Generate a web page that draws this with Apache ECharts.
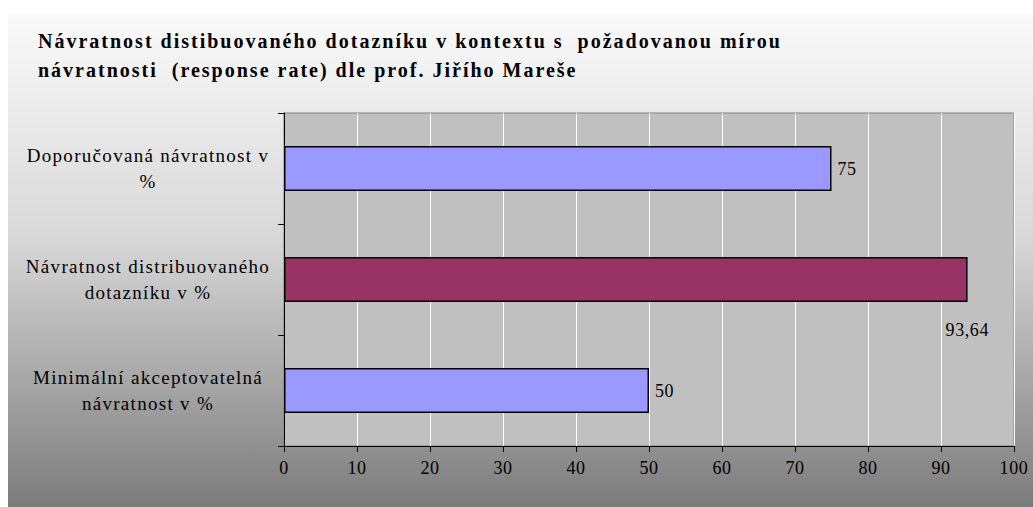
<!DOCTYPE html>
<html lang="cs">
<head>
    <meta charset="UTF-8">
    <title>Návratnost dotazníku</title>
    <script src="https://cdn.jsdelivr.net/npm/echarts/dist/echarts.min.js"></script>
    <style>
        html, body { margin: 0; padding: 0; background: #fff; }
        #chart { width: 1033px; height: 507px; }
        /* the original Times text is set wide */
        #chart svg text { letter-spacing: 0.6px; }
        #chart svg text[style*="19px"] { letter-spacing: 1.3px; }
        #chart svg text[style*="bold"] { letter-spacing: 2px; }
    </style>
</head>
<body>
<div id="chart"></div>
<script>
    // data
    var categories = [
        'Doporučovaná návratnost v\n%',
        'Návratnost distribuovaného\ndotazníku v %',
        'Minimální akceptovatelná\nnávratnost v %'
    ];
    var values = [75, 93.64, 50];
    var xTicks = [0, 10, 20, 30, 40, 50, 60, 70, 80, 90, 100];

    var serif = '"Liberation Serif", "DejaVu Serif", serif';
    var chart = echarts.init(document.getElementById('chart'), null, { renderer: 'svg' });

    var option = {
        animation: false,
        graphic: [{
            type: 'rect',
            z: -10,
            shape: { x: 8, y: 14, width: 1025, height: 493 },
            style: {
                fill: new echarts.graphic.LinearGradient(0, 0, 0, 1, [
                    { offset: 0, color: '#fafafa' },
                    { offset: 0.45, color: '#d8d8d8' },
                    { offset: 1, color: '#7c7c7c' }
                ])
            }
        }],
        title: {
            text: 'Návratnost distibuovaného dotazníku v kontextu s  požadovanou mírou\nnávratnosti  (response rate) dle prof. Jiřího Mareše',
            left: 33,
            top: 21,
            textStyle: {
                fontFamily: serif,
                fontSize: 20,
                fontWeight: 'bold',
                color: '#000',
                lineHeight: 29
            }
        },
        grid: {
            left: 284,
            right: 19,
            top: 113,
            bottom: 61,
            show: true,
            backgroundColor: '#c0c0c0',
            borderColor: '#808080',
            borderWidth: 1
        },
        xAxis: {
            type: 'value',
            min: 0,
            max: 100,
            interval: 10,
            axisLine: { show: true, lineStyle: { color: '#000', width: 1 } },
            axisTick: { show: true, inside: false, length: 6, lineStyle: { color: '#000' } },
            splitLine: { show: true, lineStyle: { color: '#ffffff', width: 1 } },
            axisLabel: {
                margin: 13,
                fontFamily: serif,
                fontSize: 18,
                color: '#000',
                formatter: function (v) { return xTicks.indexOf(v) >= 0 ? String(v) : ''; }
            }
        },
        yAxis: {
            type: 'category',
            inverse: true,
            data: categories,
            axisLine: { show: true, lineStyle: { color: '#000', width: 1 } },
            axisTick: { show: true, length: 6, lineStyle: { color: '#000' } },
            axisLabel: {
                margin: 136,
                align: 'center',
                fontFamily: serif,
                fontSize: 19,
                lineHeight: 26,
                color: '#000'
            }
        },
        series: [{
            type: 'bar',
            data: values.map(function (v, i) {
                var item = { value: v };
                if (i === 1) {
                    // this label sits below the bar end in the original
                    item.label = { position: 'right', offset: [-28, 50] };
                }
                return item;
            }),
            barWidth: 45,
            itemStyle: {
                color: function (p) { return p.dataIndex === 1 ? '#993366' : '#9999ff'; },
                borderColor: '#000',
                borderWidth: 1.5
            },
            label: {
                show: true,
                position: 'right',
                distance: 6,
                fontFamily: serif,
                fontSize: 18,
                color: '#000',
                formatter: function (p) { return String(p.value).replace('.', ','); }
            }
        }]
    };

    chart.setOption(option);
</script>
</body>
</html>
